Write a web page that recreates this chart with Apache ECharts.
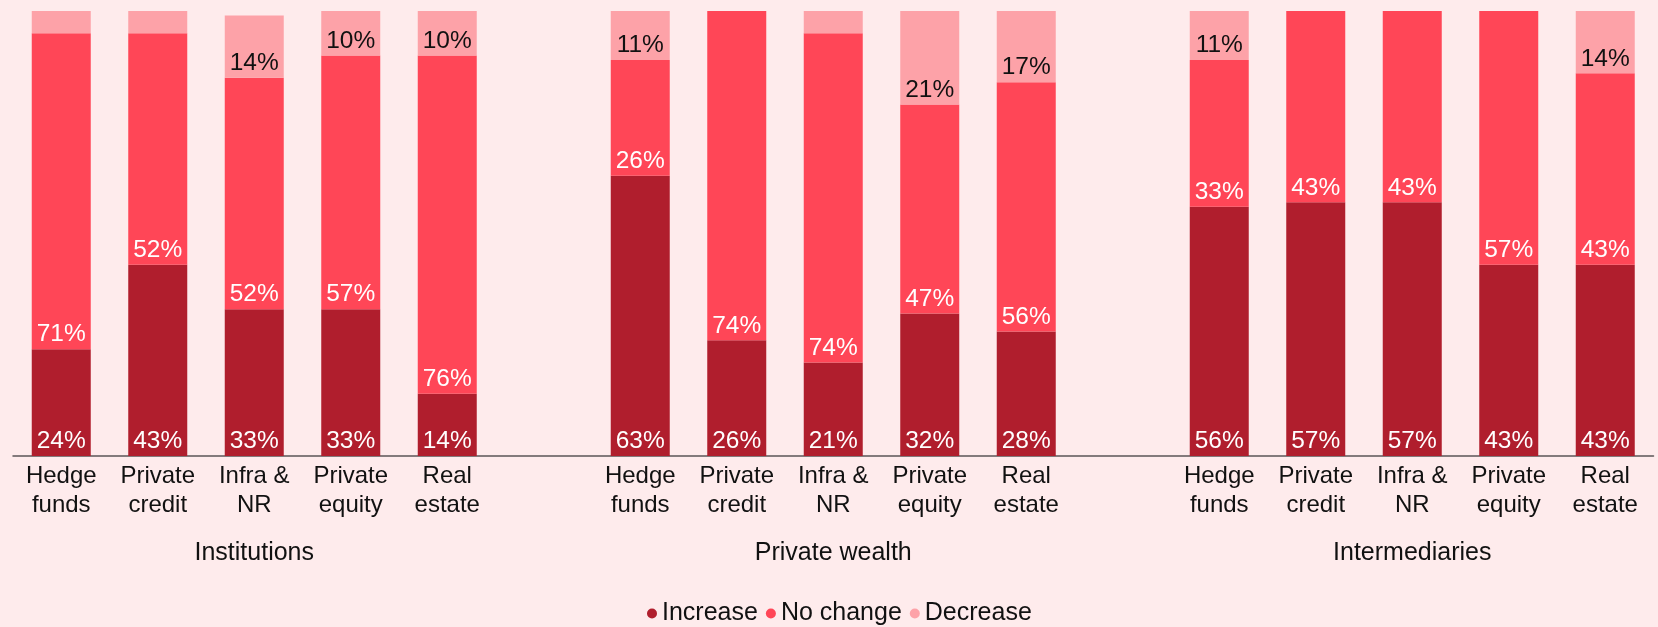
<!DOCTYPE html>
<html>
<head>
<meta charset="utf-8">
<script src="https://cdn.jsdelivr.net/npm/echarts@6/dist/echarts.min.js"></script>
<style>
  html, body { margin: 0; padding: 0; background: #feebec; }
  #chart { width: 1658px; height: 627px; }
</style>
</head>
<body>
<div id="chart"></div>
<script>
// Asset classes shown in each investor group
const categories = ['Hedge\nfunds', 'Private\ncredit', 'Infra &\nNR', 'Private\nequity', 'Real\nestate'];
const groups = ['Institutions', 'Private wealth', 'Intermediaries'];

// Share of respondents (%), in group order: Institutions, Private wealth, Intermediaries
const increase = [24, 43, 33, 33, 14,   63, 26, 21, 32, 28,   56, 57, 57, 43, 43];
const noChange = [71, 52, 52, 57, 76,   26, 74, 74, 47, 56,   33, 43, 43, 57, 43];
const decrease = [5, 5, 14, 10, 10,     11, 0, 5, 21, 17,     11, 0, 0, 0, 14];

// One category axis; an empty slot separates consecutive groups
const slots = [];
const groupSlots = [];
groups.forEach((g, gi) => {
  categories.forEach((c, ci) => {
    slots.push(c);
    groupSlots.push(ci === 2 ? g : '');
  });
  if (gi < groups.length - 1) { slots.push(''); groupSlots.push(''); }
});
function spread(values) {
  const out = [];
  groups.forEach((g, gi) => {
    for (let ci = 0; ci < categories.length; ci++) out.push(values[gi * categories.length + ci]);
    if (gi < groups.length - 1) out.push('-');
  });
  return out;
}

const FONT = '"Liberation Sans", Arial, sans-serif';
const colors = { inc: '#b01e2d', none: '#ff4657', dec: '#fda2a8' };

function barSeries(name, values, color, labelColor) {
  return {
    name, type: 'bar', stack: 'total', barWidth: 59,
    data: spread(values),
    itemStyle: { color },
    label: {
      show: true, position: 'insideBottom', distance: 2,
      color: labelColor, fontFamily: FONT, fontSize: 24.5, lineHeight: 25,
      formatter: p => (p.value >= 10 ? p.value + '%' : '')
    },
    emphasis: { disabled: true }
  };
}

const chart = echarts.init(document.getElementById('chart'));
chart.setOption({
  backgroundColor: '#feebec',
  animation: false,
  grid: { left: 13, right: 4.5, top: 11, bottom: 171 },
  legend: {
    left: 642, top: 596,
    icon: 'circle', itemWidth: 10, itemHeight: 10, itemGap: 8,
    textStyle: { fontFamily: FONT, fontSize: 25, color: '#111' },
    data: ['Increase', 'No change', 'Decrease']
  },
  xAxis: [
    {
      type: 'category', data: slots,
      axisLine: { lineStyle: { color: '#5b5557', width: 1.5 } },
      axisTick: { show: false },
      axisLabel: {
        interval: 0, margin: 6, color: '#111', fontFamily: FONT, fontSize: 24, lineHeight: 29
      }
    },
    {
      type: 'category', data: groupSlots, position: 'bottom',
      axisLine: { show: false }, axisTick: { show: false },
      axisLabel: { interval: 0, margin: 85, color: '#111', fontFamily: FONT, fontSize: 25 }
    }
  ],
  yAxis: { type: 'value', min: 0, max: 100, show: false },
  series: [
    barSeries('Increase', increase, colors.inc, '#fff'),
    barSeries('No change', noChange, colors.none, '#fff'),
    barSeries('Decrease', decrease, colors.dec, '#111')
  ]
});
</script>
</body>
</html>
